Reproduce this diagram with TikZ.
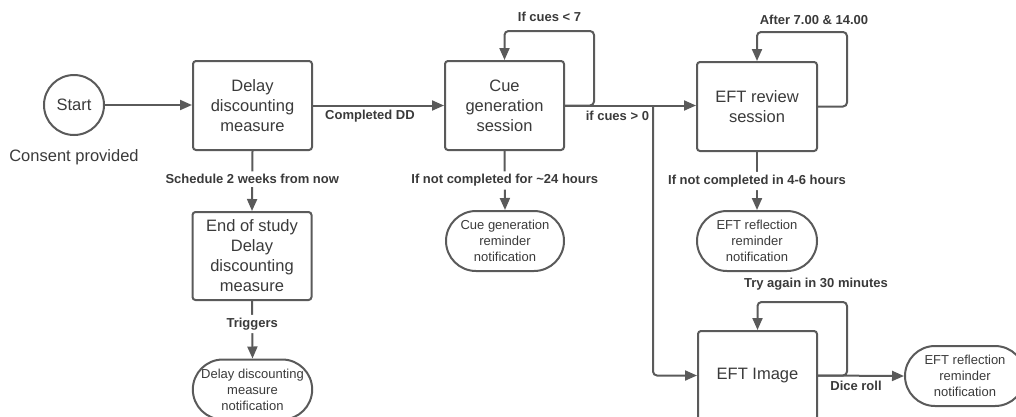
\documentclass[tikz,border=0pt]{standalone}
\usepackage{fontspec}
\setmainfont{Liberation Sans}
\usetikzlibrary{arrows.meta,shapes.misc}
\definecolor{ink}{HTML}{5A5A5A}
\definecolor{txt}{HTML}{3A3A3A}
\begin{document}
\begin{tikzpicture}[x=1pt,y=-1pt,
  line width=2pt,
  box/.style={draw=ink,rounded corners=3pt,minimum width=119pt,minimum height=89pt,
    align=center,text=txt,font=\fontsize{16.5}{20}\selectfont,inner sep=0pt},
  note/.style={draw=ink,rounded rectangle,minimum width=118pt,minimum height=60pt,
    align=center,text=txt,font=\fontsize{13}{16}\selectfont,inner sep=0pt},
  lbl/.style={text=txt,font=\fontsize{13}{15}\selectfont\bfseries,inner sep=1pt},
  cut/.style={lbl,fill=white,inner sep=3pt},
  arr/.style={draw=ink,-{Triangle[length=12pt,width=10pt]},rounded corners=4pt}]
\useasboundingbox (0,0) rectangle (1016,416);

% nodes
\node[draw=ink,circle,minimum size=60pt,inner sep=0pt,text=txt,
      font=\fontsize{16.5}{20}\selectfont] (start) at (74,105) {Start};
\node[text=txt,font=\fontsize{16.5}{20}\selectfont] (consent) at (74,157) {Consent provided};
\node[box] (delay) at (252.5,105.5) {Delay\\discounting\\measure};
\node[box] (cue) at (504.5,105.5) {Cue\\generation\\session};
\node[box,minimum width=120pt] (review) at (757,106.5) {EFT review\\session};
\node[box,minimum height=88pt] (endst) at (252,256) {End of study\\Delay\\discounting\\measure};
\node[note] (ddnote) at (252.5,389.5) {Delay discounting\\measure\\notification};
\node[note] (cuenote) at (505,241) {Cue generation\\reminder\\notification};
\node[note,minimum width=120pt] (refnote) at (757,241) {EFT reflection\\reminder\\notification};
\node[box] (image) at (757.5,375.5) {EFT Image};
\node[note,minimum width=120pt] (refnote2) at (965,376) {EFT reflection\\reminder\\notification};

% loop corners and branch point
\coordinate (cl) at (594,31);
\coordinate (rl) at (847,32);
\coordinate (il) at (847,302);
\coordinate (br) at (653,106);

% connectors
\draw[arr] (start) -- (start -| delay.west);
\draw[arr] (delay.east) -- (delay.east -| cue.west);
\draw[arr] (cue.east) -| (cl) -| (cue.north);
\draw[arr] (cue.east) -- (cue.east -| review.west);
\draw[arr] (br) |- (image.west);
\draw[arr] (review.east) -| (rl) -| (review.north);
\draw[arr] (image.east) -| (il) -| (image.north);
\draw[arr] (image.east) -- (refnote2.west);

\draw[arr] (delay.south) -- (endst.north)
  node[cut,pos=0.47] (l1) {Schedule 2 weeks from now};
\draw[arr] (endst.south) -- (ddnote.north)
  node[cut,pos=0.4] (l2) {Triggers};
\draw[arr] (cue.south) -- (cuenote.north)
  node[cut,pos=0.5] (l3) {If not completed for \textasciitilde24 hours};
\draw[arr] (review.south) -- (refnote.north)
  node[cut,pos=0.5] (l4) {If not completed in 4-6 hours};

% edge labels
\node[lbl] (l5) at (370,116) {Completed DD};
\node[lbl] (l6) at (549.5,17) {If cues < 7};
\node[lbl,anchor=east] (l7) at (651,116) {if cues > 0};
\node[lbl] (l8) at (814,20) {After 7.00 \& 14.00};
\node[lbl] (l9) at (816,284) {Try again in 30 minutes};
\node[lbl] (l10) at (856,386) {Dice roll};
\end{tikzpicture}
\end{document}
